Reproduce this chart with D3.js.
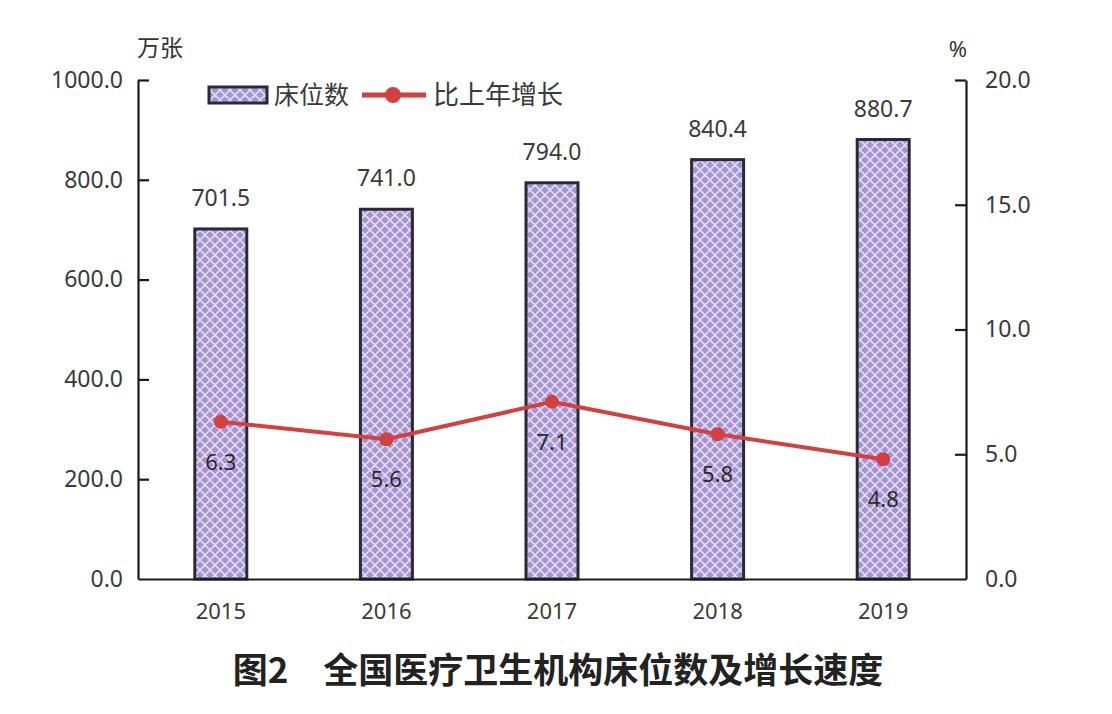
<!DOCTYPE html>
<html><head><meta charset="utf-8">
<script src="https://cdn.jsdelivr.net/npm/d3@7"></script>
<style>body{margin:0;background:#fff;}svg{display:block;}</style>
</head><body>
<svg id="c" width="1112" height="714"></svg>
<script>
const years = ["2015","2016","2017","2018","2019"];
const beds = [701.5, 741.0, 794.0, 840.4, 880.7];
const growth = [6.3, 5.6, 7.1, 5.8, 4.8];
const leftTicks = [0, 200, 400, 600, 800, 1000];
const rightTicks = [0, 5, 10, 15, 20];

const svg = d3.select("#c");
const font = "'Noto Sans', 'Noto Sans CJK SC', sans-serif";
const L = 138, R = 966, T = 80, B = 579;

const x = d3.scaleBand().domain(years).range([L, R]).paddingInner(0.686).paddingOuter(0.343);
const yL = d3.scaleLinear().domain([0, 1000]).range([B, T]);
const yR = d3.scaleLinear().domain([0, 20]).range([B, T]);

// pattern
const defs = svg.append("defs");
const pat = defs.append("pattern").attr("id","lattice").attr("patternUnits","userSpaceOnUse")
  .attr("width",10).attr("height",10);
pat.append("rect").attr("width",10).attr("height",10).attr("fill","#a593d2");
pat.append("path").attr("d","M0,0 L10,10 M10,0 L0,10 M-5,5 L5,-5 M5,15 L15,5 M-5,5 L5,15 M5,-5 L15,5")
  .attr("stroke","#e2daf2").attr("stroke-width",1.6).attr("fill","none");

// bars
svg.selectAll("rect.bar").data(beds).join("rect").attr("class","bar")
  .attr("x",(d,i)=>x(years[i])).attr("width",x.bandwidth())
  .attr("y",d=>yL(d)).attr("height",d=>B-yL(d))
  .attr("fill","url(#lattice)").attr("stroke","#2b2838").attr("stroke-width",3);

// axes
const axL = d3.axisLeft(yL).tickValues(leftTicks).tickFormat(d3.format(".1f")).tickSizeInner(-11).tickSizeOuter(0).tickPadding(15);
const gL = svg.append("g").attr("transform",`translate(${L},0)`).call(axL);
const axR = d3.axisRight(yR).tickValues(rightTicks).tickFormat(d3.format(".1f")).tickSizeInner(-11).tickSizeOuter(0).tickPadding(19);
const gR = svg.append("g").attr("transform",`translate(${R},0)`).call(axR);
const axB = d3.axisBottom(x).tickSize(0).tickPadding(24);
const gB = svg.append("g").attr("transform",`translate(0,${B})`).call(axB);
[gL,gR,gB].forEach(g=>{
  g.selectAll("path.domain").attr("stroke","#1a1a1a").attr("stroke-width",2.2);
  g.selectAll("line").attr("stroke","#1a1a1a").attr("stroke-width",2.2);
  g.selectAll("text").attr("font-family",font).attr("font-size",23).attr("fill","#3a3a3a");
});
gB.selectAll("text").attr("font-size",22);
gL.selectAll(".tick").filter(d=>d===0).select("line").remove();
gR.selectAll(".tick").filter(d=>d===0).select("line").remove();

// bar labels
svg.selectAll("text.bl").data(beds).join("text").attr("class","bl")
  .attr("x",(d,i)=>x(years[i])+x.bandwidth()/2).attr("y",d=>yL(d)-23)
  .attr("text-anchor","middle").attr("font-family",font).attr("font-size",23).attr("fill","#3a3a3a")
  .text(d=>d3.format(".1f")(d));

// line
const cx = (d,i)=>x(years[i])+x.bandwidth()/2;
svg.append("path").datum(growth)
  .attr("d", d3.line().x(cx).y(d=>yR(d)))
  .attr("fill","none").attr("stroke","#d43f3f").attr("stroke-width",4);
svg.selectAll("circle.pt").data(growth).join("circle").attr("class","pt")
  .attr("cx",cx).attr("cy",d=>yR(d)).attr("r",7).attr("fill","#d43f3f");
svg.selectAll("text.gl").data(growth).join("text").attr("class","gl")
  .attr("x",cx).attr("y",d=>yR(d)+48)
  .attr("text-anchor","middle").attr("font-family",font).attr("font-size",22).attr("fill","#2a2a2a")
  .text(d=>d3.format(".1f")(d));

// units
svg.append("text").attr("x",137).attr("y",56).attr("font-family",font).attr("font-size",23).attr("fill","#333").text("万张");
svg.append("text").attr("x",958).attr("y",57).attr("text-anchor","middle").attr("font-family",font).attr("font-size",22).attr("fill","#333").text("%");

// legend
const lg = svg.append("g");
lg.append("rect").attr("x",209).attr("y",87).attr("width",58).attr("height",16).attr("fill","url(#lattice)").attr("stroke","#2b2838").attr("stroke-width",3);
lg.append("text").attr("x",274).attr("y",104).attr("font-family",font).attr("font-size",25).attr("fill","#3a3a3a").text("床位数");
lg.append("line").attr("x1",362).attr("x2",426).attr("y1",95).attr("y2",95).attr("stroke","#d43f3f").attr("stroke-width",5);
lg.append("circle").attr("cx",393).attr("cy",95).attr("r",8).attr("fill","#d43f3f");
lg.append("text").attr("x",433).attr("y",104).attr("font-family",font).attr("font-size",26).attr("fill","#3a3a3a").text("比上年增长");

// title
svg.append("text").attr("x",558).attr("y",683).attr("text-anchor","middle")
  .attr("font-family","'Noto Sans CJK SC', sans-serif").attr("font-weight",700).attr("font-size",35).attr("fill","#222")
  .attr("xml:space","preserve").text("图2　全国医疗卫生机构床位数及增长速度");
</script>
</body></html>
